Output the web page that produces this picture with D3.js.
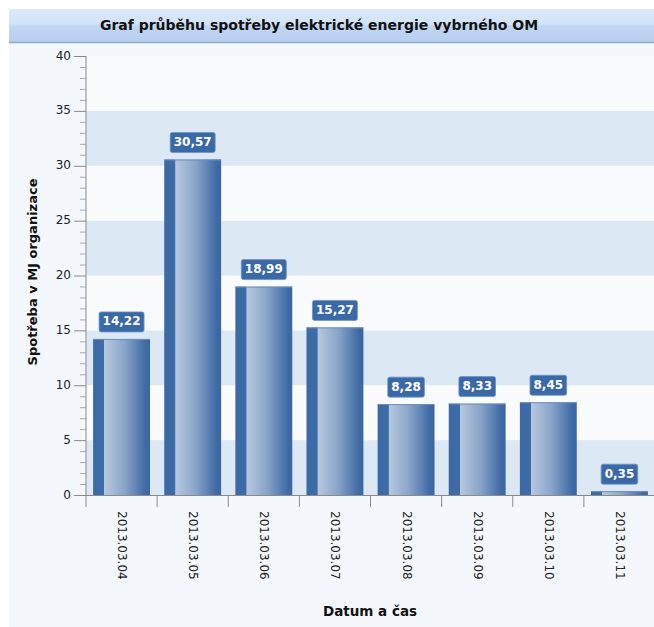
<!DOCTYPE html>
<html><head><meta charset="utf-8">
<script src="https://cdn.jsdelivr.net/npm/d3@7/dist/d3.min.js"></script>
<style>body{margin:0;background:#fff;}svg{display:block;}</style>
</head><body>
<script>
const categories = ["2013.03.04","2013.03.05","2013.03.06","2013.03.07","2013.03.08","2013.03.09","2013.03.10","2013.03.11"];
const values = [14.22, 30.57, 18.99, 15.27, 8.28, 8.33, 8.45, 0.35];
const yTicks = [0,5,10,15,20,25,30,35,40];
const title = "Graf průběhu spotřeby elektrické energie vybrného OM";
const yTitle = "Spotřeba v MJ organizace";
const xTitle = "Datum a čas";

const W = 654, H = 627;
const svg = d3.select("body").append("svg").attr("width", W).attr("height", H);
const defs = svg.append("defs");

const tg = defs.append("linearGradient").attr("id","tg").attr("x1",0).attr("y1",0).attr("x2",0).attr("y2",1);
[[0,"#dbe9fb"],[0.45,"#d2e3f9"],[0.5,"#c0d6f2"],[1,"#b7cfef"]].forEach(s=>tg.append("stop").attr("offset",s[0]).attr("stop-color",s[1]));

const bg = defs.append("linearGradient").attr("id","bg").attr("x1",0).attr("y1",0).attr("x2",1).attr("y2",0);
[[0,"#3b69a5"],[0.19,"#3d6ca7"],[0.2,"#b6c8de"],[0.55,"#8aa5c8"],[0.92,"#3f6aa5"],[1,"#3a66a2"]].forEach(s=>bg.append("stop").attr("offset",s[0]).attr("stop-color",s[1]));

// panel
svg.append("rect").attr("x",9).attr("y",9).attr("width",W-9).attr("height",H-9).attr("fill","#f4f8fc");
svg.append("rect").attr("x",9).attr("y",9).attr("width",W-9).attr("height",34).attr("fill","url(#tg)");
svg.append("line").attr("x1",9).attr("x2",W).attr("y1",42.5).attr("y2",42.5).attr("stroke","#8eabd0").attr("stroke-width",1.5);
svg.append("text").attr("x",319).attr("y",26).attr("text-anchor","middle").attr("dominant-baseline","middle")
  .attr("font-family","DejaVu Sans").attr("font-weight","bold").attr("font-size",14).attr("fill","#111").text(title);

const x = d3.scaleBand().domain(categories).range([86,655]).paddingInner(0.2).paddingOuter(0.1);
const y = d3.scaleLinear().domain([0,40]).range([495,56]);

// bands
const g = svg.append("g");
for (let i=0;i<yTicks.length-1;i++){
  g.append("rect").attr("x",86).attr("width",655-86)
   .attr("y",y(yTicks[i+1])).attr("height",y(yTicks[i])-y(yTicks[i+1]))
   .attr("fill", i%2===0 ? "#dce9f4" : "#f9fbfd");
}

// bars
g.selectAll("rect.bar").data(values).join("rect").attr("class","bar")
 .attr("x",(d,i)=>x(categories[i])).attr("width",x.bandwidth())
 .attr("y",d=>y(d)).attr("height",d=>y(0)-y(d))
 .attr("fill","url(#bg)");
g.selectAll("line.bt").data(values).join("line").attr("class","bt")
 .attr("x1",(d,i)=>x(categories[i])).attr("x2",(d,i)=>x(categories[i])+x.bandwidth())
 .attr("y1",d=>y(d)+0.5).attr("y2",d=>y(d)+0.5).attr("stroke","#6b8fbe").attr("stroke-width",1);

// labels
const fmt = d=>d.toFixed(2).replace(".",",");
const lg = g.selectAll("g.lab").data(values).join("g").attr("class","lab")
  .attr("transform",(d,i)=>`translate(${x(categories[i])+x.bandwidth()/2},${y(d)-17})`);
lg.each(function(d){
  const s = d3.select(this);
  const t = s.append("text").attr("text-anchor","middle").attr("dominant-baseline","middle")
    .attr("font-family","DejaVu Sans").attr("font-weight","bold").attr("font-size",12).attr("fill","#fff").text(fmt(d));
  const w = t.node().getComputedTextLength()+7;
  s.insert("rect","text").attr("x",-w/2).attr("y",-10).attr("width",w).attr("height",20).attr("rx",2)
   .attr("fill","#3a69a8").attr("stroke","#6d93c3").attr("stroke-width",0.8);
});

// y axis
const ax = svg.append("g").attr("stroke","#8a8a8a");
ax.append("line").attr("x1",86).attr("x2",86).attr("y1",56).attr("y2",495);
const minor = d3.range(0,41,1);
ax.selectAll("line.mt").data(minor).join("line").attr("class","mt")
  .attr("x1",d=>d%5===0?74:80).attr("x2",86).attr("y1",d=>y(d)+0.5).attr("y2",d=>y(d)+0.5)
  .attr("stroke",d=>d%5===0?"#888":"#a8a8a8");
svg.selectAll("text.yt").data(yTicks).join("text").attr("class","yt")
  .attr("x",71).attr("y",d=>y(d)).attr("text-anchor","end").attr("dominant-baseline","middle")
  .attr("font-family","DejaVu Sans").attr("font-size",12).attr("fill","#222").text(d=>d);

// x axis
ax.append("line").attr("x1",74).attr("x2",655).attr("y1",495.5).attr("y2",495.5);
const bounds = categories.map(c=>x(c)-x.step()*x.paddingOuter());
ax.selectAll("line.xt").data(bounds).join("line").attr("class","xt")
  .attr("x1",d=>d).attr("x2",d=>d).attr("y1",495).attr("y2",507);
svg.selectAll("text.xl").data(categories).join("text").attr("class","xl")
  .attr("transform",c=>`translate(${x(c)+x.bandwidth()/2},511) rotate(90)`)
  .attr("dominant-baseline","middle")
  .attr("font-family","DejaVu Sans").attr("font-size",12).attr("fill","#222").text(c=>c);

svg.append("text").attr("transform","translate(33,272) rotate(-90)").attr("text-anchor","middle").attr("dominant-baseline","middle")
  .attr("font-family","DejaVu Sans").attr("font-weight","bold").attr("font-size",13).attr("fill","#111").text(yTitle);
svg.append("text").attr("x",370).attr("y",612).attr("text-anchor","middle").attr("dominant-baseline","middle")
  .attr("font-family","DejaVu Sans").attr("font-weight","bold").attr("font-size",13.5).attr("fill","#111").text(xTitle);
</script>
</body></html>
